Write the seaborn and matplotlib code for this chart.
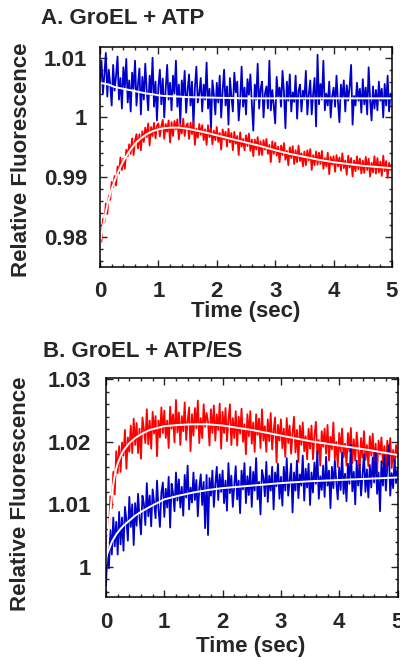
import numpy as np
import seaborn as sns
import matplotlib
matplotlib.use("Agg")
import matplotlib.pyplot as plt
from matplotlib.ticker import MultipleLocator, FuncFormatter

# stopped-flow sampling grid (sec), 0.025 s steps
time_sec = np.linspace(0, 5, 201)

# raw traces, in units of 1e-4 relative to F = 1
a_blue = [60, 95, 40, 72, 108, 35, 80, 55, 20, 88,
          45, 70, 102, 30, 66, 15, 84, 50, 98, 25,
          62, 10, 75, 48, 95, 20, 55, 82, 5, 68,
          30, 90, 45, 12, 70, 38, 100, 18, 60, -5,
          52, 80, 22, 65, 0, 48, 88, 30, 58, 12,
          70, 40, 95, 18, 55, -10, 62, 35, 78, 8,
          45, 72, 20, 60, -15, 50, 85, 25, 40, 66,
          10, 55, 30, 92, 15, 48, -20, 62, 38, 5,
          58, 25, 70, 0, 45, 80, 20, 52, -12, 66,
          35, 10, 75, 42, 60, -5, 28, 85, 18, 50,
          5, 64, 38, 72, 22, -22, 55, 30, 90, 15,
          48, 60, 0, 40, 52, 15, 95, 12, 46, 20,
          -10, 68, 35, 50, 18, 78, 42, -18, 60, 28,
          72, 10, 42, 26, 70, -2, 45, 55, 10, 45,
          30, 78, 5, 38, 62, 5, 40, 66, -15, 105,
          22, 56, 30, 95, 12, 40, 20, 60, 0, 35,
          50, 18, 70, 25, -8, 55, 32, 62, 10, 54,
          28, 52, 88, -12, 36, 20, 58, 28, 48, 8,
          64, 22, 50, 5, 84, 30, -5, 52, 15, 46,
          12, 60, 28, 48, 0, 56, 20, 70, 10, 40, 30]
a_red = [-205, -208, -170, -176, -144, -162, -131, -138, -108, -117,
         -98, -114, -82, -94, -67, -88, -69, -86, -54, -65,
         -45, -61, -35, -63, -38, -28, -52, -28, -55, -23,
         -41, -17, -33, -10, -47, -16, -31, -9, -35, -14,
         -10, -32, -15, -4, -36, -11, -24, -5, -42, -8,
         -31, -6, -20, -3, -37, -12, -27, -2, -31, -14,
         -10, -36, -9, -28, -7, -46, -19, -34, -11, -29,
         -13, -38, -20, -46, -13, -33, -18, -45, -22, -38,
         -16, -41, -26, -54, -20, -37, -24, -49, -19, -42,
         -26, -55, -24, -44, -31, -63, -25, -49, -36, -55,
         -30, -48, -27, -56, -37, -65, -37, -54, -33, -63,
         -40, -63, -38, -54, -36, -61, -46, -75, -40, -61,
         -42, -64, -49, -75, -47, -63, -43, -71, -56, -80,
         -50, -68, -48, -78, -55, -75, -47, -73, -60, -82,
         -57, -80, -55, -72, -53, -88, -63, -80, -57, -79,
         -59, -78, -56, -86, -68, -82, -59, -95, -66, -79,
         -65, -91, -63, -82, -67, -89, -60, -85, -72, -96,
         -64, -84, -68, -99, -72, -90, -65, -87, -69, -94,
         -72, -93, -66, -88, -69, -99, -76, -92, -65, -94,
         -68, -92, -74, -98, -64, -90, -73, -101, -76, -88, -79]
b_red = [-15, 50, 52, 113, 94, 152, 116, 185, 150, 193,
         152, 199, 178, 219, 157, 207, 184, 226, 182, 237,
         195, 230, 182, 221, 173, 239, 220, 198, 252, 196,
         234, 189, 248, 213, 241, 177, 234, 207, 255, 214,
         250, 206, 234, 190, 256, 221, 244, 199, 267, 215,
         247, 195, 241, 217, 263, 203, 233, 255, 185, 244,
         210, 254, 222, 266, 198, 238, 206, 260, 224, 246,
         232, 194, 252, 214, 258, 202, 244, 219, 261, 189,
         248, 214, 254, 201, 235, 260, 195, 238, 206, 249,
         194, 240, 213, 253, 200, 228, 180, 244, 209, 249,
         197, 231, 184, 244, 211, 237, 190, 252, 202, 225,
         184, 236, 201, 246, 188, 218, 239, 167, 227, 202,
         236, 190, 221, 176, 238, 198, 226, 181, 213, 240,
         183, 219, 168, 226, 195, 231, 185, 209, 172, 221,
         189, 226, 172, 210, 232, 180, 203, 162, 217, 192,
         221, 181, 227, 170, 208, 188, 231, 172, 200, 160,
         214, 184, 221, 175, 197, 162, 214, 185, 222, 166,
         204, 170, 215, 187, 152, 206, 175, 217, 171, 195,
         161, 209, 178, 213, 166, 197, 152, 202, 180, 207,
         165, 193, 154, 202, 175, 206, 158, 187, 165, 195, 175]
b_blue = [-30, 32, -2, 59, 20, 79, 33, 72, 20, 88,
          36, 79, 26, 96, 75, 42, 112, 64, 100, 35,
          102, 66, 117, 79, 52, 114, 101, 67, 134, 81,
          114, 65, 124, 103, 78, 138, 93, 64, 119, 135,
          80, 125, 95, 144, 63, 133, 118, 89, 151, 106,
          140, 95, 128, 82, 147, 111, 162, 92, 127, 103,
          151, 107, 139, 81, 126, 148, 99, 136, 62, 147,
          51, 142, 114, 154, 96, 132, 160, 107, 148, 120,
          154, 102, 138, 90, 166, 118, 146, 96, 130, 161,
          108, 138, 86, 154, 124, 166, 102, 145, 115, 160,
          96, 152, 122, 174, 108, 136, 84, 155, 143, 113,
          168, 104, 146, 122, 160, 92, 151, 129, 165, 109,
          144, 98, 160, 122, 174, 114, 138, 165, 87, 151,
          122, 170, 110, 148, 130, 178, 106, 157, 127, 165,
          99, 151, 119, 167, 133, 185, 109, 145, 123, 162,
          112, 176, 130, 154, 94, 160, 126, 170, 136, 108,
          159, 123, 183, 117, 149, 105, 165, 133, 195, 121,
          152, 100, 170, 130, 164, 114, 146, 180, 120, 156,
          111, 163, 127, 175, 135, 187, 117, 151, 89, 169,
          130, 178, 122, 160, 194, 114, 150, 126, 172, 134, 157]

# fitted curves (white), same units
fit_t_a = [0, 0.05, 0.1, 0.15, 0.2, 0.25, 0.3, 0.35, 0.4, 0.5, 0.6, 0.7, 0.8,
           0.9, 1.0, 1.1, 1.2, 1.35, 1.5, 1.75, 2.0, 2.25, 2.5, 2.75, 3.0,
           3.25, 3.5, 3.75, 4.0, 4.25, 4.5, 4.75, 5.0]
fit_a_red = [-210, -183, -158, -137, -120, -106, -94, -83, -73, -57, -44, -35,
             -28, -23, -20, -18, -17, -17, -19, -24, -30, -36, -42, -48, -55,
             -61, -66, -71, -75, -78, -81, -83, -85]
fit_a_blue = [58, 57, 56, 55, 53, 51, 50, 49, 48, 46, 44, 42, 40, 39, 37, 36,
              35.5, 35, 34, 33.5, 33, 32.5, 32, 32, 32, 32, 32, 32, 32, 32,
              32, 32, 32]
fit_t_b = [0, 0.025, 0.05, 0.075, 0.1, 0.125, 0.15, 0.175, 0.2, 0.25, 0.3,
           0.4, 0.5, 0.6, 0.75, 1.0, 1.25, 1.5, 1.75, 2.0, 2.5, 3.0, 3.5, 4.0,
           4.5, 5.0]
fit_b_red = [5, 35, 62, 88, 112, 132, 146, 157, 165, 177, 186, 198, 206, 212,
             219, 225, 227, 228, 228, 226, 219, 210, 201, 194, 187, 179]
fit_b_blue = [15, 22, 28, 34, 40, 44, 48, 52, 55, 61, 66, 74, 82, 88, 96, 108,
              114, 119, 123, 126, 130, 134, 137, 139, 141, 143]

RED = "#ff0000"
BLUE = "#0000cd"


def rel(v):
    return 1 + np.asarray(v, dtype=float) / 1e4


def fmt(v, pos):
    return f"{round(v, 4):g}"


def draw_panel(ax, traces, fit_t, fits, ylim, lab_pad):
    for vals, color in traces:
        sns.lineplot(x=time_sec, y=rel(vals), color=color, lw=1.3, ax=ax,
                     estimator=None, sort=False)
    for vals in fits:
        sns.lineplot(x=np.asarray(fit_t), y=rel(vals), color="white", lw=1.4,
                     ax=ax, estimator=None, sort=False)
    ax.set_xlim(0, 5)
    ax.set_ylim(*ylim)
    ax.xaxis.set_major_locator(MultipleLocator(1))
    ax.xaxis.set_minor_locator(MultipleLocator(0.2))
    ax.yaxis.set_major_locator(MultipleLocator(0.01))
    ax.yaxis.set_minor_locator(MultipleLocator(0.002))
    ax.xaxis.set_major_formatter(FuncFormatter(fmt))
    ax.yaxis.set_major_formatter(FuncFormatter(fmt))
    ax.tick_params(which="both", direction="in", top=True, right=True,
                   width=1.0, labelsize=16)
    ax.tick_params(which="major", length=5)
    ax.tick_params(which="minor", length=2.5)
    ax.tick_params(axis="x", pad=10.5)
    ax.tick_params(axis="y", pad=lab_pad)
    ax.set_xlabel("")
    ax.set_ylabel("")
    for sp in ax.spines.values():
        sp.set_linewidth(1.1)
        sp.set_color("black")


sns.set_style("ticks")
plt.rcParams["font.family"] = ["Liberation Sans", "DejaVu Sans"]
plt.rcParams["font.weight"] = "bold"

W, H = 400, 661
fig = plt.figure(figsize=(4.0, 6.61), dpi=100)
ax_a = fig.add_axes([100 / W, 1 - 266.7 / H, 292 / W, 219.7 / H])
ax_b = fig.add_axes([106 / W, 1 - 597 / H, 291.5 / W, 219 / H])

draw_panel(ax_a, [(a_blue, BLUE), (a_red, RED)], fit_t_a,
           [fit_a_blue, fit_a_red], (0.975, 1.0118), 9.1)
draw_panel(ax_b, [(b_red, RED), (b_blue, BLUE)], fit_t_b,
           [fit_b_red, fit_b_blue], (0.9952, 1.0302), 10.8)

tkw = dict(fontsize=16, fontweight="bold")
fig.text(40.7 / W, 1 - 24 / H, "A. GroEL + ATP", ha="left", va="baseline", **tkw)
fig.text(43.3 / W, 1 - 356.7 / H, "B. GroEL + ATP/ES", ha="left", va="baseline", **tkw)
fig.text(246 / W, 1 - 317.5 / H, "Time (sec)", ha="center", va="baseline", **tkw)
fig.text(251 / W, 1 - 652 / H, "Time (sec)", ha="center", va="baseline", **tkw)
fig.text(22 / W, 1 - 160 / H, "Relative Fluorescence", rotation=90,
         ha="center", va="center", **tkw)
fig.text(21 / W, 1 - 494 / H, "Relative Fluorescence", rotation=90,
         ha="center", va="center", **tkw)

fig.savefig("out.png", dpi=100)
